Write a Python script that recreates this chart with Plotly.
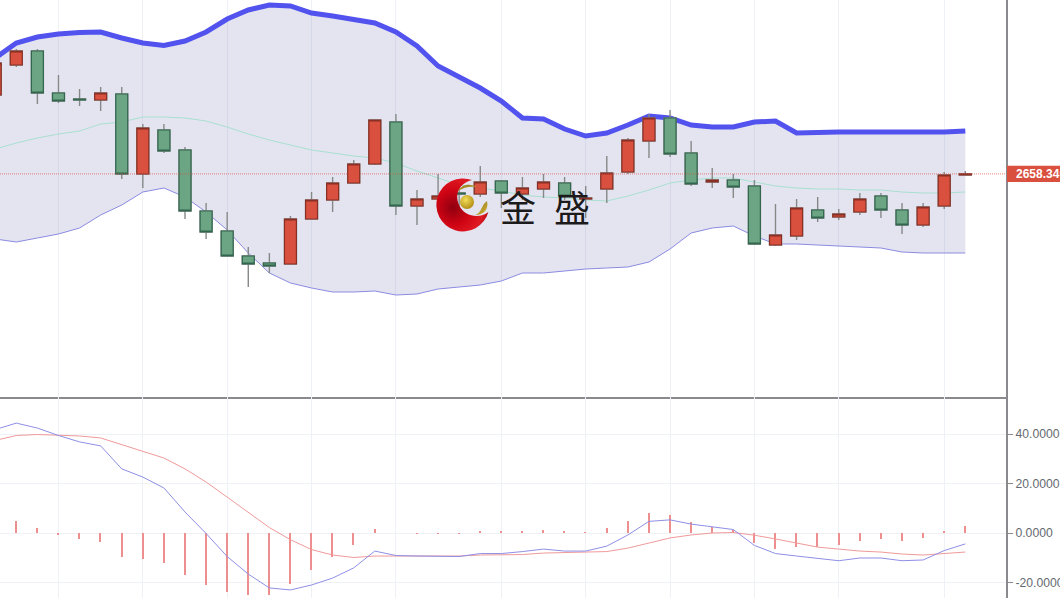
import base64
import plotly.graph_objects as go

bars = list(range(-1, 46))
opens = [2697.8,2712.8,2719.8,2698.8,2695.8,2695.3,2698.3,2658.3,2680.3,2670.3,2639.8,2629.8,2617.3,2613.8,2613.3,2635.8,2645.3,2653.8,2663.3,2684.3,2642.3,2645.8,2648.8,2648.3,2654.8,2648.3,2650.8,2653.8,2645.8,2650.8,2659.3,2674.8,2686.3,2668.8,2654.3,2655.3,2652.3,2622.8,2627.3,2640.3,2636.8,2639.3,2647.3,2640.3,2632.8,2642.3,2657.8]
highs = [2717.8,2720.8,2720.8,2707.8,2700.8,2701.8,2701.8,2683.3,2683.3,2671.8,2643.8,2639.3,2621.8,2618.8,2637.3,2649.3,2656.8,2665.3,2685.3,2688.3,2650.3,2658.3,2652.3,2662.3,2655.3,2656.8,2658.3,2656.8,2652.3,2667.3,2676.3,2688.3,2690.3,2674.8,2661.3,2658.3,2655.3,2643.3,2645.8,2646.8,2640.8,2648.8,2648.8,2643.8,2643.8,2659.3,2659.8]
lows = [2696.8,2711.8,2693.3,2693.8,2692.3,2689.8,2655.8,2651.3,2668.8,2635.8,2625.8,2617.3,2601.8,2608.8,2613.3,2635.8,2639.3,2653.8,2662.8,2637.8,2632.8,2639.3,2640.3,2646.8,2641.3,2645.3,2646.3,2645.3,2636.3,2643.8,2658.3,2666.3,2666.8,2652.3,2651.3,2646.3,2622.8,2622.3,2625.3,2634.3,2635.3,2637.8,2636.3,2628.3,2631.8,2640.8,2657.8]
closes = [2713.8,2719.8,2698.8,2694.8,2695.3,2698.8,2658.3,2681.3,2669.8,2639.8,2629.3,2617.3,2613.3,2612.3,2635.8,2645.3,2653.8,2663.3,2685.3,2642.3,2645.8,2647.3,2648.3,2654.3,2648.8,2651.3,2654.3,2647.3,2646.3,2658.8,2675.3,2686.3,2668.3,2653.3,2655.3,2651.8,2623.3,2627.8,2641.3,2636.3,2638.3,2645.8,2640.3,2632.8,2641.8,2657.8,2658.34]
boll_upper = [2716.3,2723.8,2726.8,2728.3,2729.05,2729.3,2726.3,2723.8,2722.55,2724.8,2729.3,2735.8,2740.3,2742.8,2742.3,2738.8,2737.3,2735.3,2733.8,2729.3,2722.3,2712.3,2706.8,2701.3,2694.8,2686.3,2685.8,2680.8,2677.3,2678.8,2682.8,2687.3,2686.3,2682.8,2681.8,2681.8,2684.3,2684.8,2678.8,2679.3,2679.3,2679.3,2679.3,2678.8,2678.8,2679.3,2679.8]
boll_mid = [2670.8,2673.8,2676.3,2678.3,2679.8,2683.3,2684.3,2686.8,2686.8,2686.3,2684.8,2681.8,2678.3,2675.3,2672.8,2670.3,2668.8,2667.3,2666.3,2663.8,2659.8,2656.3,2652.8,2651.3,2649.8,2647.8,2646.8,2646.3,2645.3,2644.8,2647.3,2650.3,2653.8,2655.3,2656.3,2656.3,2654.3,2652.3,2651.3,2650.8,2650.8,2650.3,2650.3,2649.3,2648.8,2648.8,2649.3]
boll_lower = [2625.8,2624.3,2626.3,2628.3,2631.3,2637.8,2642.8,2649.3,2651.3,2646.8,2639.3,2630.3,2618.8,2608.8,2603.8,2601.3,2599.3,2599.3,2599.8,2597.8,2598.3,2600.8,2601.8,2602.8,2604.8,2608.8,2608.8,2609.8,2610.8,2611.3,2611.8,2614.3,2620.8,2628.8,2631.3,2632.3,2627.3,2623.3,2623.3,2622.8,2622.3,2621.8,2621.3,2619.3,2618.8,2618.8,2618.8]
macd_dif = [41.8,44.4,42.4,39.4,36.8,35.2,25.9,22.6,18.2,8.5,-0.2,-9.5,-16.6,-22.2,-23.0,-21.0,-18.2,-14.1,-7.3,-9.1,-9.3,-9.5,-9.5,-8.3,-8.3,-7.5,-6.5,-7.3,-7.3,-5.3,-0.8,4.7,5.3,3.6,2.4,1.4,-5.0,-8.3,-9.3,-10.3,-11.2,-10.1,-10.1,-11.2,-10.9,-7.1,-4.4]
macd_dea = [37.4,39.4,39.8,39.6,39.2,38.4,35.6,32.9,30.3,25.9,20.6,14.5,8.5,2.2,-2.7,-6.7,-8.9,-9.9,-9.3,-9.3,-9.3,-9.5,-9.3,-8.9,-8.9,-8.7,-8.1,-7.9,-7.9,-7.5,-6.1,-4.0,-2.0,-0.8,0.0,0.2,-0.9,-2.4,-4.0,-5.7,-6.5,-7.3,-7.7,-8.5,-8.9,-8.3,-7.7]
macd_hist = [3.0,4.8,2.0,-0.5,-2.5,-3.7,-9.8,-10.7,-12.3,-16.9,-20.9,-23.9,-25.1,-25.1,-20.5,-15.0,-9.8,-4.8,1.8,0.0,-0.4,-0.4,-0.4,0.5,0.5,1.0,1.4,0.5,0.3,1.9,4.9,7.9,7.2,4.4,2.6,1.2,-4.2,-6.3,-5.6,-5.5,-4.8,-3.3,-2.5,-3.3,-2.2,1.0,3.0]
grid_bars = [2, 6, 10, 14, 18, 23, 27, 31, 35, 39, 44]
macd_ticks = [40, 20, 0, -20]
macd_labels = ["40.0000", "20.0000", "0.0000", "-20.0000"]
last_price = 2658.34
last_label = "2658.340"
brand = "金\u2002盛"

W, H = 1060, 598
PLOT_W = 1006
SPLIT = 397
split_paper = (H - SPLIT) / H
x_range = [-0.773, 46.93]
y_range = [2546.8, 2745.3]

body_hi = [max(o, c) for o, c in zip(opens, closes)]
body_lo = [min(o, c) for o, c in zip(opens, closes)]

fig = go.Figure()

# Bollinger band
fig.add_trace(go.Scatter(x=bars, y=boll_upper, mode="lines", xaxis="x", yaxis="y",
                         line=dict(color="rgba(0,0,0,0)", width=0), hoverinfo="skip"))
fig.add_trace(go.Scatter(x=bars, y=boll_lower, mode="lines", xaxis="x", yaxis="y", fill="tonexty",
                         fillcolor="rgba(90,90,170,0.16)", line=dict(color="#8b8be2", width=1)))
fig.add_trace(go.Scatter(x=bars, y=boll_mid, mode="lines", xaxis="x", yaxis="y",
                         line=dict(color="#a9e0cf", width=1)))
fig.add_trace(go.Scatter(x=bars, y=boll_upper, mode="lines", xaxis="x", yaxis="y",
                         line=dict(color="#5252ee", width=5)))

# Candles on an overlaid subplot so that they sit above the band: grey wicks, then the bodies
fig.add_trace(go.Candlestick(x=bars, open=opens, high=highs, low=lows, close=closes,
                             xaxis="x3", yaxis="y3", whiskerwidth=0,
                             increasing=dict(line=dict(color="#858a88", width=1.4), fillcolor="rgba(0,0,0,0)"),
                             decreasing=dict(line=dict(color="#858a88", width=1.4), fillcolor="rgba(0,0,0,0)")))
fig.add_trace(go.Candlestick(x=bars, open=opens, high=body_hi, low=body_lo, close=closes,
                             xaxis="x3", yaxis="y3", whiskerwidth=0,
                             increasing=dict(line=dict(color="#8a2f24", width=1.2), fillcolor="#d9503f"),
                             decreasing=dict(line=dict(color="#33664f", width=1.2), fillcolor="#6ba583")))

# MACD
fig.add_trace(go.Bar(x=bars, y=macd_hist, xaxis="x2", yaxis="y2", width=0.07,
                     marker=dict(color="#ee8f8f", line=dict(width=0))))
fig.add_trace(go.Scatter(x=bars, y=macd_dea, mode="lines", xaxis="x2", yaxis="y2",
                         line=dict(color="#f09a9a", width=1)))
fig.add_trace(go.Scatter(x=bars, y=macd_dif, mode="lines", xaxis="x2", yaxis="y2",
                         line=dict(color="#8f8fe6", width=1)))

grid = "#eef2f7"
axis_line = "#8a8a8e"
fig.update_layout(
    width=W, height=H, margin=dict(l=0, r=W - PLOT_W, t=0, b=0, pad=0, autoexpand=False),
    paper_bgcolor="white", plot_bgcolor="white", showlegend=False, boxgap=0.19, bargap=0,
    xaxis=dict(domain=[0, 1], range=x_range, anchor="y", rangeslider=dict(visible=False),
               tickvals=grid_bars, showticklabels=False, ticks="", showgrid=True, gridcolor="#eef1f6",
               gridwidth=1, zeroline=False, showline=True, linecolor=axis_line, linewidth=2),
    yaxis=dict(domain=[split_paper, 1], range=y_range, side="right", anchor="x",
               tickvals=[last_price], ticks="outside", ticklen=4, tickcolor="#f3c4bb", showticklabels=False,
               showgrid=False, zeroline=False, showline=True, linecolor=axis_line, linewidth=2),
    xaxis3=dict(overlaying="x", range=x_range, anchor="y3", visible=False, rangeslider=dict(visible=False)),
    yaxis3=dict(overlaying="y", range=y_range, anchor="x3", side="right", visible=False),
    xaxis2=dict(domain=[0, 1], range=x_range, anchor="y2", tickvals=grid_bars, showticklabels=False,
                ticks="", showgrid=True, gridcolor=grid, gridwidth=1, zeroline=False),
    yaxis2=dict(domain=[0, split_paper], range=[-26.26, 54.95], side="right", anchor="x2",
                tickvals=macd_ticks, ticktext=macd_labels, ticks="outside", ticklen=5, tickcolor=axis_line,
                tickfont=dict(family="Liberation Sans", size=12.2, color="#666a70"), showgrid=True,
                gridcolor=grid, gridwidth=1, zeroline=False, showline=True, linecolor=axis_line, linewidth=2),
    font=dict(family="Liberation Sans"),
)

# Last price: dotted line and tag
fig.add_shape(type="rect", xref="paper", yref="y", x0=1.001, x1=W / PLOT_W,
              y0=last_price - 4.1, y1=last_price + 4.1, fillcolor="#d9503f", line=dict(width=0))
fig.add_shape(type="line", xref="paper", yref="y", x0=0, x1=1, y0=last_price, y1=last_price,
              line=dict(color="rgba(217,80,63,0.7)", width=1, dash="1px,1px"))
fig.add_annotation(xref="paper", yref="y", x=1014 / PLOT_W, y=last_price, xanchor="left", yanchor="middle",
                   text=f"<b>{last_label}</b>", showarrow=False, align="left",
                   font=dict(family="Liberation Sans", size=12, color="white"))

# Logo
svg = """<svg xmlns='http://www.w3.org/2000/svg' width='240' height='240' viewBox='0 0 60 60'>
<defs>
<radialGradient id='r' cx='0.32' cy='0.55' r='0.72'>
<stop offset='0' stop-color='#8f0010'/><stop offset='0.45' stop-color='#cf0414'/>
<stop offset='0.8' stop-color='#e01a22'/><stop offset='1' stop-color='#a80812'/>
</radialGradient>
<radialGradient id='g' cx='0.4' cy='0.35' r='0.7'>
<stop offset='0' stop-color='#f2dc5a'/><stop offset='1' stop-color='#b08a10'/>
</radialGradient>
<linearGradient id='s' x1='0' y1='0' x2='1' y2='1'>
<stop offset='0' stop-color='#8a6d14'/><stop offset='1' stop-color='#d8b83a'/>
</linearGradient>
</defs>
<path d='M40,5 A26.5,26.5 0 1 0 56.4,37 C48,44 32,42 27,30 C22,18 28,8 40,5 Z' fill='url(#r)'/>
<circle cx='35' cy='27' r='7' fill='url(#g)'/>
<path d='M26,16 C30,9 38,8 45,12 C38,11 32,12 26,16 Z' fill='url(#s)'/>
<path d='M43,40 C50,38 49,30 55,26 C57,34 52,40 43,40 Z' fill='url(#s)'/>
</svg>"""
fig.add_layout_image(dict(source="data:image/svg+xml;base64," + base64.b64encode(svg.encode()).decode(),
                          xref="paper", yref="paper", x=432 / PLOT_W, y=(H - 175) / H,
                          sizex=60 / PLOT_W, sizey=60 / H, xanchor="left", yanchor="top",
                          sizing="stretch", layer="above"))
fig.add_annotation(xref="paper", yref="paper", x=545 / PLOT_W, y=(H - 206) / H, xanchor="center", yanchor="middle",
                   text=brand, showarrow=False, font=dict(family="Noto Sans CJK SC", size=36, color="#1c1a1a"))

fig.write_html("out.html", config=dict(displayModeBar=False, responsive=False),
               default_width=f"{W}px", default_height=f"{H}px",
               post_script="document.body.style.margin='0';document.body.style.overflow='hidden';")
